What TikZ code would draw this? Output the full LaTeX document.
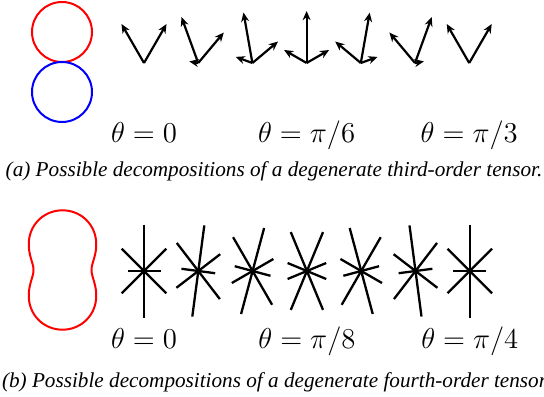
\documentclass[tikz,border=0pt]{standalone}
\usepackage{fontspec}
\newfontfamily\capfont{Liberation Serif}
\usepackage{tikz}
\usetikzlibrary{arrows.meta}

\begin{document}
\begin{tikzpicture}[
  x=0.5pt, y=0.5pt,
  lobe/.style={line width=1pt},
  vec/.style={-{Stealth[length=4.6pt,width=4pt]}, line width=1.1pt},
  ray/.style={line width=1.15pt},
  lbl/.style={anchor=base, font=\Large},
  captxt/.style={anchor=base, font=\capfont\itshape\fontsize{10.6}{12}\selectfont}
]
\useasboundingbox (0,0) rectangle (544,396);

% (a) third-order tensor
\draw[lobe, red] (62,364) circle (30);
\draw[lobe, blue] (62,304) circle (30);
\foreach \k in {0,...,6}{
  \pgfmathsetmacro{\t}{10*\k}
  \pgfmathsetmacro{\la}{78*(cos(\t)/sqrt(3)+sin(\t)/3)}
  \pgfmathsetmacro{\lb}{78*(cos(\t)/sqrt(3)-sin(\t)/3)}
  \pgfmathsetmacro{\lc}{52*sin(\t)}
  \coordinate (o\k) at (144+54.2*\k,333);
  \draw[vec] (o\k) -- ++(120-\t:\la);
  \ifdim\lb pt>1pt \draw[vec] (o\k) -- ++(60-\t:\lb); \fi
  \ifdim\lc pt>1pt \draw[vec] (o\k) -- ++(180-\t:\lc); \fi
}
\node[lbl] (ta0) at (144,253) {$\theta=0$};
\node[lbl] (ta3) at (306.6,253) {$\theta=\pi/6$};
\node[lbl] (ta6) at (469.2,253) {$\theta=\pi/3$};
\node[captxt] (capa) at (274,219) {(a) Possible decompositions of a degenerate third-order tensor.};

% (b) fourth-order tensor
\draw[lobe, red, shift={(62.5,126)}] plot[domain=0:357.5, samples=144, smooth cycle]
  (\x:{29*pow(cos(\x),4)+98*pow(cos(\x),2)*pow(sin(\x),2)+59.7*pow(sin(\x),4)});
\foreach \k in {0,...,6}{
  \pgfmathsetmacro{\t}{7.5*\k}
  \coordinate (s\k) at (144+54.3*\k,125);
  \foreach \j in {0,...,3}{
    \pgfmathsetmacro{\a}{45*\j-\t}
    \pgfmathsetmacro{\h}{31.5-15*cos(2*\a)}
    \draw[ray] (s\k) ++(\a:\h) -- ++(\a+180:2*\h);
  }
}
\node[lbl] (tb0) at (144,48) {$\theta=0$};
\node[lbl] (tb3) at (306.9,48) {$\theta=\pi/8$};
\node[lbl] (tb6) at (469.8,48) {$\theta=\pi/4$};
\node[captxt] (capb) at (276,9) {(b) Possible decompositions of a degenerate fourth-order tensor.};
\end{tikzpicture}
\end{document}
